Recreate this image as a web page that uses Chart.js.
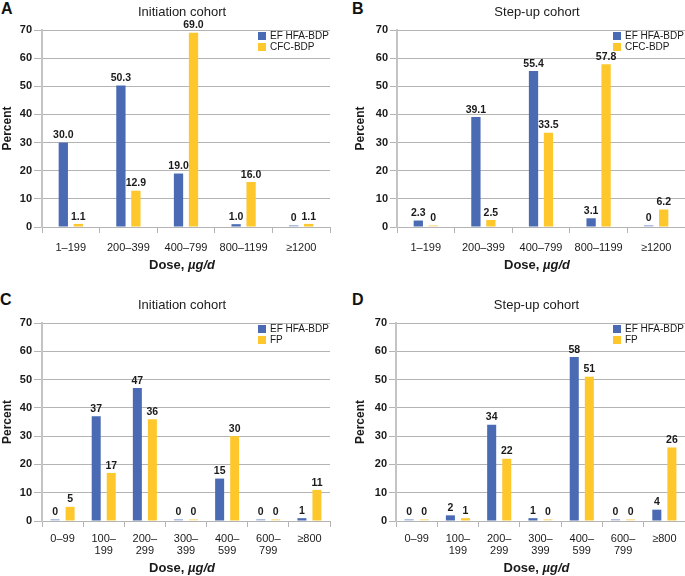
<!DOCTYPE html>
<html>
<head>
<meta charset="utf-8">
<script src="https://cdn.jsdelivr.net/npm/chart.js@4"></script>
<style>
  body { margin: 0; background: #fff; width: 685px; height: 576px; position: relative; overflow: hidden; font-family: "Liberation Sans", Arial, sans-serif; }
  canvas { position: absolute; }
  .letter { position: absolute; font-weight: bold; font-size: 16px; color: #111; line-height: 18px; }
</style>
</head>
<body>
<div class="letter" style="left:1px;top:0px">A</div>
<div class="letter" style="left:352px;top:0px">B</div>
<div class="letter" style="left:0px;top:291px">C</div>
<div class="letter" style="left:352px;top:291px">D</div>

<canvas id="chartA" width="340" height="285" style="left:0;top:0"></canvas>
<canvas id="chartB" width="332" height="285" style="left:353px;top:0"></canvas>
<canvas id="chartC" width="340" height="283" style="left:0;top:293px"></canvas>
<canvas id="chartD" width="332" height="283" style="left:353px;top:293px"></canvas>

<script>
// categories
const doseBdp = ["1–199", "200–399", "400–799", "800–1199", "≥1200"];
const doseFp = ["0–99", ["100–", "199"], ["200–", "299"], ["300–", "399"], ["400–", "599"], ["600–", "799"], "≥800"];

// panel A - initiation cohort, EF HFA-BDP vs CFC-BDP
const initHfa = [30.0, 50.3, 19.0, 1.0, 0];
const initCfc = [1.1, 12.9, 69.0, 16.0, 1.1];
// panel B - step-up cohort
const stepHfa = [2.3, 39.1, 55.4, 3.1, 0];
const stepCfc = [0, 2.5, 33.5, 57.8, 6.2];
// panel C - initiation cohort, EF HFA-BDP vs FP
const initHfaFp = [0, 37, 47, 0, 15, 0, 1];
const initFp = [5, 17, 36, 0, 30, 0, 11];
// panel D - step-up cohort
const stepHfaFp = [0, 2, 34, 1, 58, 0, 4];
const stepFp = [0, 1, 22, 0, 51, 0, 26];

const yTicks = [0, 10, 20, 30, 40, 50, 60, 70];

const BLUE = "#4a6ab4", BLUE_ZERO = "#aebce0";
const YELLOW = "#fec82c", YELLOW_ZERO = "#fde3a0";
const GRID = "#b4b4b4";
const FONT = '"Liberation Sans", Arial, sans-serif';

Chart.defaults.font.family = FONT;
Chart.defaults.color = "#1a1a1a";

const panelText = {
  id: "panelText",
  afterDraw(chart, args, opts) {
    const ctx = chart.ctx;
    const a = chart.chartArea;
    const cx = (a.left + a.right) / 2 - 4;
    ctx.save();
    ctx.fillStyle = "#1a1a1a";
    ctx.textBaseline = "middle";

    // panel title
    ctx.textAlign = "center";
    ctx.font = "13px " + FONT;
    ctx.fillText(opts.title, cx, opts.titleY);

    // x axis title with italic unit
    const y = a.bottom + opts.xTitleGap;
    ctx.font = "bold 13px " + FONT;
    const w1 = ctx.measureText("Dose, ").width;
    ctx.font = "italic bold 13px " + FONT;
    const w2 = ctx.measureText("µg/d").width;
    const x0 = cx - (w1 + w2) / 2;
    ctx.textAlign = "left";
    ctx.font = "bold 13px " + FONT;
    ctx.fillText("Dose, ", x0, y);
    ctx.font = "italic bold 13px " + FONT;
    ctx.fillText("µg/d", x0 + w1, y);

    // legend, top right of plot
    ctx.font = "10px " + FONT;
    chart.data.datasets.forEach((ds, i) => {
      const lx = a.right - 72;
      const ly = a.top + 6 + i * 11;
      ctx.fillStyle = ds.legendColor;
      ctx.fillRect(lx, ly - 4, 8, 8);
      ctx.fillStyle = "#1a1a1a";
      ctx.fillText(ds.label, lx + 12, ly);
    });

    // value labels above bars
    ctx.textAlign = "center";
    ctx.textBaseline = "bottom";
    ctx.font = "bold 10.5px " + FONT;
    chart.data.datasets.forEach((ds, i) => {
      chart.getDatasetMeta(i).data.forEach((bar, j) => {
        const v = ds.data[j];
        const txt = v === 0 ? "0" : v.toFixed(opts.decimals);
        ctx.fillText(txt, bar.x, bar.y - 2);
      });
    });
    ctx.restore();
  }
};

function makeChart(id, labels, names, s1, s2, o) {
  const zeroAware = (c, cz) => (ctx) => ctx.raw === 0 ? cz : c;
  return new Chart(document.getElementById(id), {
    type: "bar",
    data: {
      labels: labels,
      datasets: [
        { label: names[0], data: s1, legendColor: BLUE, backgroundColor: zeroAware(BLUE, BLUE_ZERO) },
        { label: names[1], data: s2, legendColor: YELLOW, backgroundColor: zeroAware(YELLOW, YELLOW_ZERO) }
      ]
    },
    options: {
      responsive: false,
      animation: false,
      devicePixelRatio: 1,
      categoryPercentage: o.catPct,
      barPercentage: o.barPct,
      minBarLength: 2,
      layout: { padding: { top: 30, right: o.padRight, bottom: 0, left: 0 } },
      plugins: {
        legend: { display: false },
        tooltip: { enabled: false },
        panelText: { title: o.title, titleY: 12, xTitleGap: o.xTitleGap, decimals: o.decimals }
      },
      scales: {
        x: {
          grid: { offset: true, drawOnChartArea: false, tickLength: 6, color: GRID },
          border: { color: GRID, width: 1 },
          ticks: { padding: o.xTickPad, font: { size: 11, lineHeight: 1.1 }, maxRotation: 0, autoSkip: false },
          afterFit: (s) => { s.height = o.xHeight; }
        },
        y: {
          min: 0,
          max: 70,
          afterBuildTicks: (s) => { s.ticks = yTicks.map(v => ({ value: v })); },
          grid: { color: GRID, tickLength: o.yTickLen, lineWidth: 1 },
          border: { color: "#c4c4c4", width: 2 },
          ticks: { padding: 2, font: { size: 11, weight: "bold" } },
          title: { display: true, text: "Percent", padding: 0, font: { size: 12, weight: "bold" } },
          afterFit: (s) => { s.width = o.yWidth; }
        }
      }
    },
    plugins: [panelText]
  });
}

makeChart("chartA", doseBdp, ["EF HFA-BDP", "CFC-BDP"], initHfa, initCfc,
  { title: "Initiation cohort", catPct: 0.52, barPct: 0.62, padRight: 10, xHeight: 58, xTickPad: 9, xTitleGap: 38, decimals: 1, yWidth: 42, yTickLen: 8 });
makeChart("chartB", doseBdp, ["EF HFA-BDP", "CFC-BDP"], stepHfa, stepCfc,
  { title: "Step-up cohort", catPct: 0.52, barPct: 0.62, padRight: 0, xHeight: 58, xTickPad: 9, xTitleGap: 38, decimals: 1, yWidth: 44, yTickLen: 7 });
makeChart("chartC", doseFp, ["EF HFA-BDP", "FP"], initHfaFp, initFp,
  { title: "Initiation cohort", catPct: 0.73, barPct: 0.6, padRight: 10, xHeight: 55, xTickPad: 6, xTitleGap: 47, decimals: 0, yWidth: 42, yTickLen: 8 });
makeChart("chartD", doseFp, ["EF HFA-BDP", "FP"], stepHfaFp, stepFp,
  { title: "Step-up cohort", catPct: 0.73, barPct: 0.6, padRight: 0, xHeight: 55, xTickPad: 6, xTitleGap: 47, decimals: 0, yWidth: 43, yTickLen: 7 });
</script>
</body>
</html>
